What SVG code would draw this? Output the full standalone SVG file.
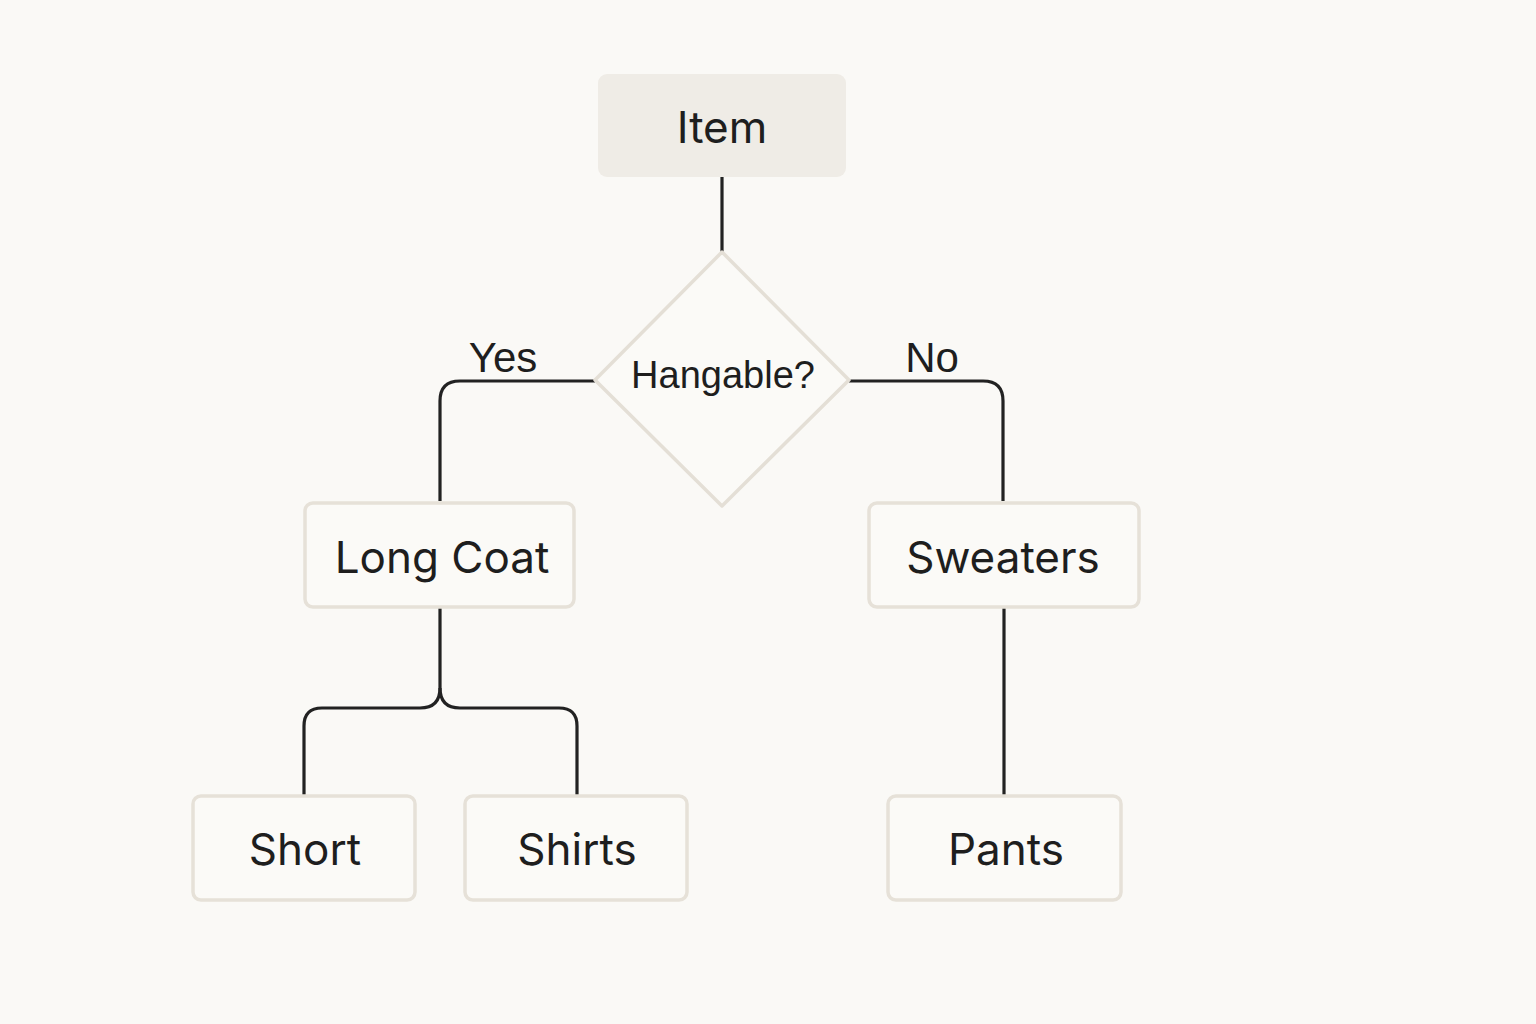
<svg xmlns="http://www.w3.org/2000/svg" width="1536" height="1024" viewBox="0 0 1536 1024">
<style>
.box{fill:#FBFAF7;stroke:#E6E1D8;stroke-width:3.5}
.lbl{font-family:Inter,"Liberation Sans",sans-serif;font-size:44px;fill:#1E1E1E;text-anchor:middle}
.dl{font-family:"Liberation Sans",Arial,sans-serif;font-size:38px;fill:#1E1E1E;text-anchor:middle}
.el{font-family:"Liberation Sans",Arial,sans-serif;font-size:42px;fill:#1E1E1E;text-anchor:middle}
.ln{fill:none;stroke:#222;stroke-width:3.2;stroke-linejoin:round}
</style>
<rect width="1536" height="1024" fill="#FAF9F6"/>
<g id="connectors">
<path class="ln" d="M722,177 V252"/>
<path class="ln" d="M595,381 H460 Q440,381 440,401 V501"/>
<path class="ln" d="M849,381 H983 Q1003,381 1003,401 V501"/>
<path class="ln" d="M440,607 V688 Q440,708 420,708 H322 Q304,708 304,726 V795"/>
<path class="ln" d="M440,688 Q440,708 460,708 H559 Q577,708 577,726 V795"/>
<path class="ln" d="M1004,607 V795"/>
</g>
<g id="item">
<rect x="598" y="74" width="248" height="103" rx="9" fill="#EFECE6"/>
<text class="lbl" x="722" y="143">Item</text>
</g>
<g id="hangable">
<path d="M722,252 L849,380 L722,506 L595,380 Z" fill="#FBFAF7" stroke="#E4DFD6" stroke-width="3.5" stroke-linejoin="round"/>
<text class="dl" x="723" y="388">Hangable?</text>
</g>
<g id="yes-label"><text class="el" x="503" y="372">Yes</text></g>
<g id="no-label"><text class="el" x="932" y="372">No</text></g>
<g id="longcoat">
<rect class="box" x="305" y="503" width="269" height="104" rx="8"/>
<text class="lbl" x="442" y="573">Long Coat</text>
</g>
<g id="sweaters">
<rect class="box" x="869" y="503" width="270" height="104" rx="8"/>
<text class="lbl" x="1003" y="573">Sweaters</text>
</g>
<g id="short">
<rect class="box" x="193" y="796" width="222" height="104" rx="8"/>
<text class="lbl" x="305" y="865">Short</text>
</g>
<g id="shirts">
<rect class="box" x="465" y="796" width="222" height="104" rx="8"/>
<text class="lbl" x="577" y="865">Shirts</text>
</g>
<g id="pants">
<rect class="box" x="888" y="796" width="233" height="104" rx="8"/>
<text class="lbl" x="1006" y="865">Pants</text>
</g>
</svg>
